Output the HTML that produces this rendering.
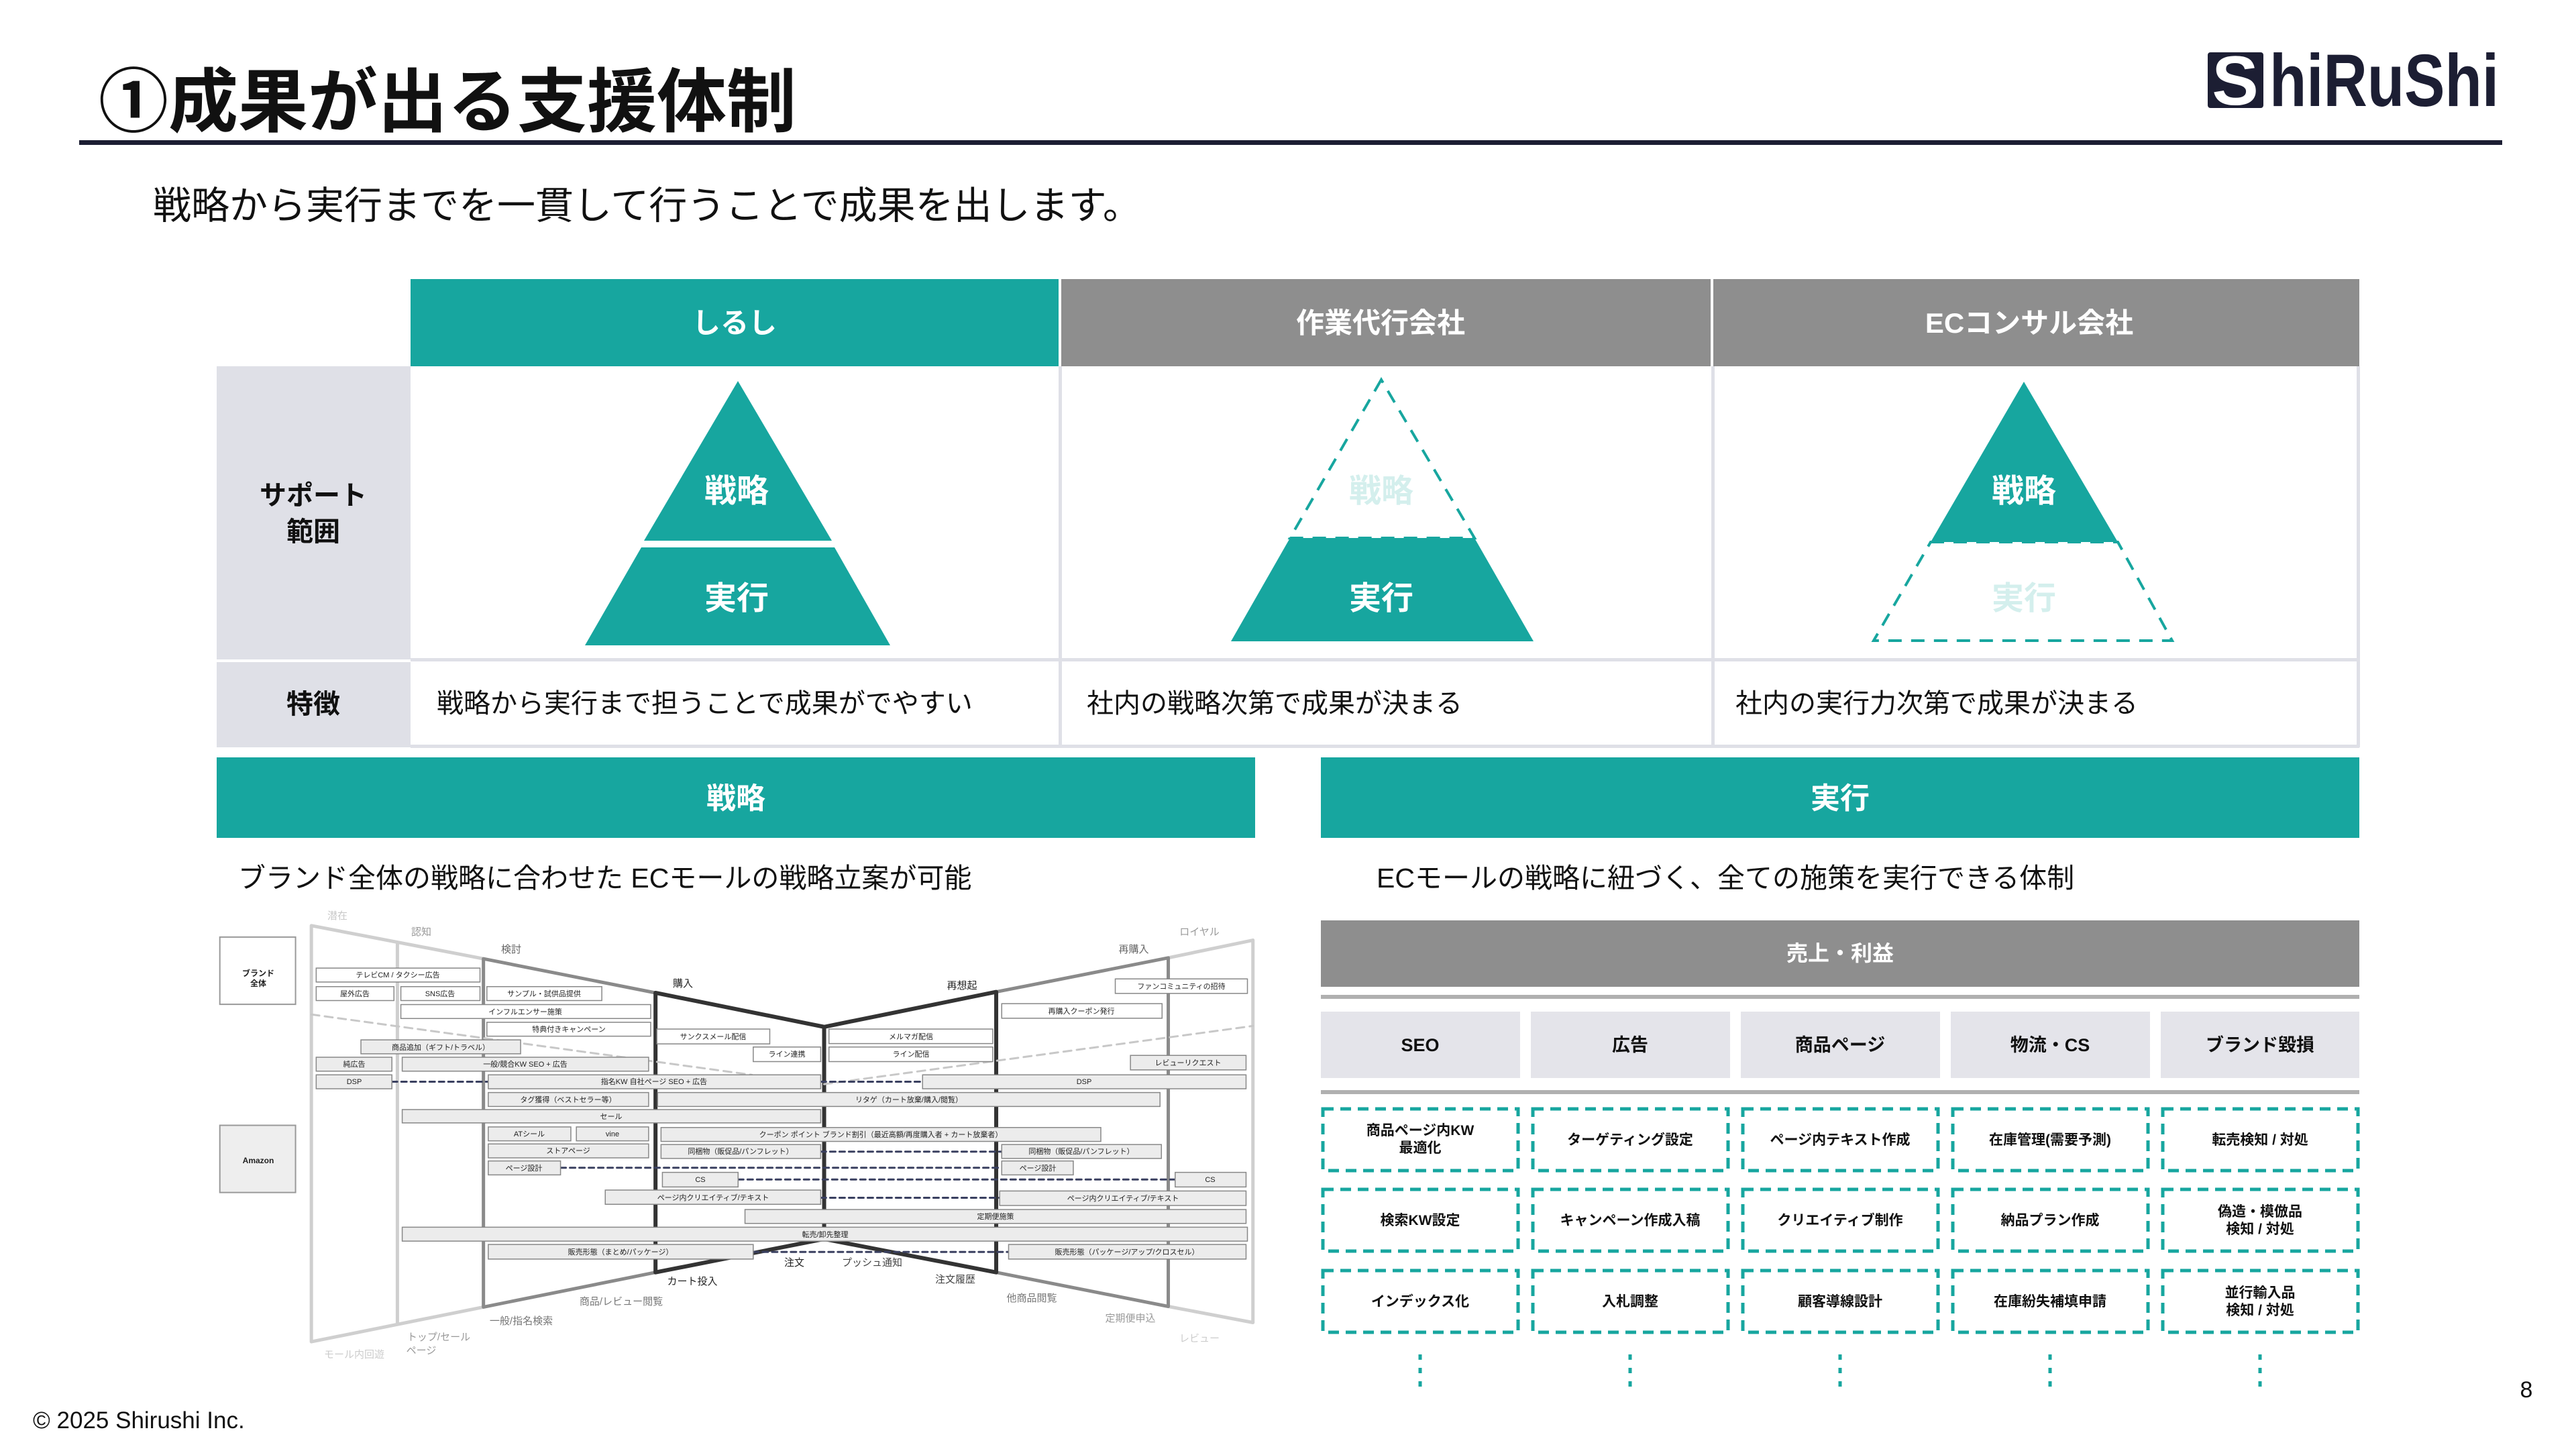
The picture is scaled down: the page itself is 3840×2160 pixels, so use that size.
<!DOCTYPE html>
<html><head><meta charset="utf-8">
<style>
html,body{margin:0;padding:0;background:#fff;}
body{width:3840px;height:2160px;overflow:hidden;position:relative;font-family:"Liberation Sans","Noto Sans CJK JP",sans-serif;}
svg text{font-family:"Liberation Sans","Noto Sans CJK JP",sans-serif;}
</style></head>
<body>
<svg width="3840" height="2160" viewBox="0 0 3840 2160" xmlns="http://www.w3.org/2000/svg" style="position:absolute;left:0;top:0">
<!-- Title -->
<text x="147" y="188" font-size="104" font-weight="bold" fill="#111">①成果が出る支援体制</text>
<rect x="118" y="209" width="3612" height="7" fill="#1c1e33"/>
<!-- Logo -->
<rect x="3291" y="78" width="83" height="83" rx="4" fill="#1c1e33"/>
<text x="3332" y="156" font-size="104" font-weight="bold" fill="#fff" text-anchor="middle">S</text>
<text x="3383" y="158" font-size="110" font-weight="bold" fill="#1c1e33" textLength="342" lengthAdjust="spacingAndGlyphs">hiRuShi</text>
<!-- Subtitle -->
<text x="228" y="326" font-size="57" fill="#111">戦略から実行までを一貫して行うことで成果を出します。</text>

<!-- Table -->
<rect x="612" y="416" width="966" height="130" fill="#17a69f"/>
<rect x="1582" y="416" width="968" height="130" fill="#8e8e8e"/>
<rect x="2554" y="416" width="963" height="130" fill="#8e8e8e"/>
<text x="1095" y="496" font-size="42" font-weight="bold" fill="#fff" text-anchor="middle">しるし</text>
<text x="2058" y="496" font-size="42" font-weight="bold" fill="#fff" text-anchor="middle">作業代行会社</text>
<text x="3025" y="496" font-size="42" font-weight="bold" fill="#fff" text-anchor="middle">ECコンサル会社</text>
<rect x="323" y="546" width="289" height="437" fill="#dfe0e7"/>
<rect x="323" y="987" width="289" height="127" fill="#dfe0e7"/>
<text x="467" y="752" font-size="40" font-weight="bold" fill="#111" text-anchor="middle">サポート</text>
<text x="467" y="806" font-size="40" font-weight="bold" fill="#111" text-anchor="middle">範囲</text>
<text x="467" y="1063" font-size="40" font-weight="bold" fill="#111" text-anchor="middle">特徴</text>
<g fill="#dfe0e7">
<rect x="612" y="981" width="2905" height="5"/>
<rect x="612" y="1110" width="2905" height="5"/>
<rect x="1578" y="546" width="5" height="568"/>
<rect x="2551" y="546" width="5" height="568"/>
<rect x="3513" y="546" width="5" height="568"/>
</g>
<g font-size="40" fill="#111">
<text x="651" y="1062">戦略から実行まで担うことで成果がでやすい</text>
<text x="1620" y="1062">社内の戦略次第で成果が決まる</text>
<text x="2587" y="1062">社内の実行力次第で成果が決まる</text>
</g>
<!-- Pyramid 1 -->
<polygon points="1100,568 960,806 1240,806" fill="#17a69f"/>
<polygon points="956,816 1244,816 1327,962 872,962" fill="#17a69f"/>
<text x="1098" y="748" font-size="48" font-weight="bold" fill="#fff" text-anchor="middle">戦略</text>
<text x="1098" y="908" font-size="48" font-weight="bold" fill="#fff" text-anchor="middle">実行</text>
<!-- Pyramid 2 -->
<polygon points="2059,566 1923,802 2198,802" fill="none" stroke="#17a69f" stroke-width="4" stroke-dasharray="20,14"/>
<polygon points="1923,802 2198,802 2286,956 1835,956" fill="#17a69f"/>
<text x="2059" y="748" font-size="48" font-weight="bold" fill="#d4efed" text-anchor="middle">戦略</text>
<text x="2059" y="908" font-size="48" font-weight="bold" fill="#fff" text-anchor="middle">実行</text>
<!-- Pyramid 3 -->
<polygon points="3017,569 2878,808 3157,808" fill="#17a69f"/>
<polygon points="2878,808 3157,808 3238,955 2793,955" fill="none" stroke="#17a69f" stroke-width="4" stroke-dasharray="20,14"/>
<text x="3017" y="748" font-size="48" font-weight="bold" fill="#fff" text-anchor="middle">戦略</text>
<text x="3017" y="908" font-size="48" font-weight="bold" fill="#d4efed" text-anchor="middle">実行</text>

<!-- Strategy / Execution bars -->
<rect x="323" y="1129" width="1548" height="120" fill="#17a69f"/>
<rect x="1969" y="1129" width="1548" height="120" fill="#17a69f"/>
<text x="1097" y="1205" font-size="44" font-weight="bold" fill="#fff" text-anchor="middle">戦略</text>
<text x="2743" y="1205" font-size="44" font-weight="bold" fill="#fff" text-anchor="middle">実行</text>
<text x="355" y="1323" font-size="41" fill="#111">ブランド全体の戦略に合わせた ECモールの戦略立案が可能</text>
<text x="2052" y="1323" font-size="41" fill="#111">ECモールの戦略に紐づく、全ての施策を実行できる体制</text>

<!-- Right panel -->
<rect x="1969" y="1372" width="1548" height="99" fill="#8e8e8e"/>
<text x="2743" y="1432" font-size="32" font-weight="bold" fill="#fff" text-anchor="middle">売上・利益</text>
<rect x="1969" y="1483" width="1548" height="6" fill="#b0b0b0"/>
<g fill="#e4e4ea">
<rect x="1969" y="1508" width="297" height="99"/>
<rect x="2282" y="1508" width="297" height="99"/>
<rect x="2595" y="1508" width="297" height="99"/>
<rect x="2908" y="1508" width="297" height="99"/>
<rect x="3221" y="1508" width="296" height="99"/>
</g>
<g font-size="27" font-weight="bold" fill="#111" text-anchor="middle">
<text x="2117" y="1567">SEO</text>
<text x="2430" y="1567">広告</text>
<text x="2743" y="1567">商品ページ</text>
<text x="3056" y="1567">物流・CS</text>
<text x="3369" y="1567">ブランド毀損</text>
</g>
<rect x="1969" y="1625" width="1548" height="6" fill="#b0b0b0"/>
<g fill="none" stroke="#17a69f" stroke-width="5" stroke-dasharray="16,10">
<rect x="1972" y="1653" width="291" height="92"/><rect x="2285" y="1653" width="291" height="92"/><rect x="2598" y="1653" width="291" height="92"/><rect x="2911" y="1653" width="291" height="92"/><rect x="3224" y="1653" width="291" height="92"/>
<rect x="1972" y="1773" width="291" height="92"/><rect x="2285" y="1773" width="291" height="92"/><rect x="2598" y="1773" width="291" height="92"/><rect x="2911" y="1773" width="291" height="92"/><rect x="3224" y="1773" width="291" height="92"/>
<rect x="1972" y="1894" width="291" height="92"/><rect x="2285" y="1894" width="291" height="92"/><rect x="2598" y="1894" width="291" height="92"/><rect x="2911" y="1894" width="291" height="92"/><rect x="3224" y="1894" width="291" height="92"/>
<path d="M2117 2019V2067M2430 2019V2067M2743 2019V2067M3056 2019V2067M3369 2019V2067" stroke-dasharray="8,12"/>
</g>
<g font-size="21" font-weight="bold" fill="#111" text-anchor="middle">
<text x="2117" y="1692">商品ページ内KW</text><text x="2117" y="1718">最適化</text>
<text x="2430" y="1706">ターゲティング設定</text>
<text x="2743" y="1706">ページ内テキスト作成</text>
<text x="3056" y="1706">在庫管理(需要予測)</text>
<text x="3369" y="1706">転売検知 / 対処</text>
<text x="2117" y="1826">検索KW設定</text>
<text x="2430" y="1826">キャンペーン作成入稿</text>
<text x="2743" y="1826">クリエイティブ制作</text>
<text x="3056" y="1826">納品プラン作成</text>
<text x="3369" y="1813">偽造・模倣品</text><text x="3369" y="1839">検知 / 対処</text>
<text x="2117" y="1947">インデックス化</text>
<text x="2430" y="1947">入札調整</text>
<text x="2743" y="1947">顧客導線設計</text>
<text x="3056" y="1947">在庫紛失補填申請</text>
<text x="3369" y="1934">並行輸入品</text><text x="3369" y="1960">検知 / 対処</text>
</g>

<!-- Left diagram -->
<g transform="translate(300,1330)">
 <g transform="scale(1.026 0.4615)">
  <g fill="#fff" stroke="#999" stroke-width="2" vector-effect="non-scaling-stroke">
   <rect x="27" y="145" width="110" height="217" vector-effect="non-scaling-stroke"/>
   <rect x="27" y="753" width="110" height="217" fill="#eee" vector-effect="non-scaling-stroke"/>
  </g>
  <g fill="none" stroke-linecap="round">
   <path d="M160 108L410 215M1405 212L1528 155M160 1452L410 1340M1405 1338L1528 1390M160 108V1452M1528 155V1390M285 162V1395" stroke="#cfcfcf" stroke-width="5" vector-effect="non-scaling-stroke"/>
   <path d="M410 215L660 325M1155 322L1405 212M410 1340L660 1228M1155 1228L1405 1338M410 215V1340M1405 212V1338" stroke="#8a8a8a" stroke-width="5" vector-effect="non-scaling-stroke"/>
   <path d="M660 325L905 435L1155 322M660 1228L905 1120L1155 1228M660 325V1228M905 435V1120M1155 322V1228" stroke="#333" stroke-width="6" vector-effect="non-scaling-stroke"/>
   <path d="M160 395L800 590M905 620L1528 432" stroke="#c8c8c8" stroke-width="3" stroke-dasharray="12,8" vector-effect="non-scaling-stroke"/>
   <path d="M277 612H417M900 612H1048M900 838H1163M522 890H1163M780 928H1415M900 987H1160M802 1162H1173" stroke="#3a4060" stroke-width="3" stroke-dasharray="8,6" vector-effect="non-scaling-stroke"/>
  </g>
  <g fill="#ececec" stroke="#888" stroke-width="1.5">
   <rect x="167" y="245" width="238" height="45" fill="#fff" vector-effect="non-scaling-stroke"/>
   <rect x="167" y="305" width="113" height="45" fill="#fff" vector-effect="non-scaling-stroke"/>
   <rect x="290" y="305" width="115" height="45" fill="#fff" vector-effect="non-scaling-stroke"/>
   <rect x="415" y="305" width="167" height="45" fill="#fff" vector-effect="non-scaling-stroke"/>
   <rect x="290" y="363" width="363" height="45" fill="#fff" vector-effect="non-scaling-stroke"/>
   <rect x="415" y="420" width="238" height="45" fill="#fff" vector-effect="non-scaling-stroke"/>
   <rect x="232" y="477" width="232" height="45" vector-effect="non-scaling-stroke"/>
   <rect x="167" y="533" width="110" height="45" vector-effect="non-scaling-stroke"/>
   <rect x="292" y="533" width="358" height="45" vector-effect="non-scaling-stroke"/>
   <rect x="167" y="590" width="110" height="45" vector-effect="non-scaling-stroke"/>
   <rect x="417" y="590" width="483" height="45" vector-effect="non-scaling-stroke"/>
   <rect x="417" y="647" width="233" height="45" vector-effect="non-scaling-stroke"/>
   <rect x="292" y="702" width="608" height="43" vector-effect="non-scaling-stroke"/>
   <rect x="417" y="758" width="120" height="45" vector-effect="non-scaling-stroke"/>
   <rect x="545" y="758" width="105" height="45" vector-effect="non-scaling-stroke"/>
   <rect x="417" y="813" width="233" height="45" vector-effect="non-scaling-stroke"/>
   <rect x="417" y="868" width="105" height="45" vector-effect="non-scaling-stroke"/>
   <rect x="662" y="442" width="164" height="48" fill="#fff" vector-effect="non-scaling-stroke"/>
   <rect x="802" y="500" width="98" height="47" fill="#fff" vector-effect="non-scaling-stroke"/>
   <rect x="912" y="442" width="238" height="47" fill="#fff" vector-effect="non-scaling-stroke"/>
   <rect x="912" y="500" width="238" height="47" fill="#fff" vector-effect="non-scaling-stroke"/>
   <rect x="1328" y="280" width="192" height="47" fill="#fff" vector-effect="non-scaling-stroke"/>
   <rect x="1163" y="360" width="233" height="47" fill="#fff" vector-effect="non-scaling-stroke"/>
   <rect x="1350" y="527" width="168" height="47" vector-effect="non-scaling-stroke"/>
   <rect x="1048" y="590" width="470" height="45" vector-effect="non-scaling-stroke"/>
   <rect x="663" y="647" width="730" height="45" vector-effect="non-scaling-stroke"/>
   <rect x="668" y="760" width="639" height="45" vector-effect="non-scaling-stroke"/>
   <rect x="668" y="815" width="232" height="45" vector-effect="non-scaling-stroke"/>
   <rect x="1163" y="815" width="232" height="45" vector-effect="non-scaling-stroke"/>
   <rect x="1163" y="868" width="104" height="45" vector-effect="non-scaling-stroke"/>
   <rect x="670" y="905" width="110" height="47" vector-effect="non-scaling-stroke"/>
   <rect x="1415" y="905" width="103" height="47" vector-effect="non-scaling-stroke"/>
   <rect x="587" y="962" width="313" height="46" vector-effect="non-scaling-stroke"/>
   <rect x="1160" y="965" width="358" height="47" vector-effect="non-scaling-stroke"/>
   <rect x="790" y="1025" width="728" height="45" vector-effect="non-scaling-stroke"/>
   <rect x="292" y="1082" width="1228" height="45" vector-effect="non-scaling-stroke"/>
   <rect x="417" y="1138" width="385" height="47" vector-effect="non-scaling-stroke"/>
   <rect x="1173" y="1138" width="345" height="47" vector-effect="non-scaling-stroke"/>
  </g>
 </g>
 <g font-size="12" font-weight="bold" fill="#222" text-anchor="middle">
  <text x="85" y="125">ブランド</text><text x="85" y="140">全体</text>
  <text x="85" y="404">Amazon</text>
 </g>
 <g font-size="11" fill="#222" text-anchor="middle">
  <text x="293" y="127">テレビCM / タクシー広告</text>
  <text x="229" y="155">屋外広告</text>
  <text x="356" y="155">SNS広告</text>
  <text x="511" y="155">サンプル・試供品提供</text>
  <text x="483" y="182">インフルエンサー施策</text>
  <text x="548" y="208">特典付きキャンペーン</text>
  <text x="357" y="235">商品追加（ギフト/トラベル）</text>
  <text x="228" y="260">純広告</text>
  <text x="483" y="260">一般/競合KW SEO + 広告</text>
  <text x="228" y="286">DSP</text>
  <text x="675" y="286">指名KW 自社ページ SEO + 広告</text>
  <text x="547" y="313">タグ獲得（ベストセラー等）</text>
  <text x="611" y="338">セール</text>
  <text x="489" y="364">ATシール</text>
  <text x="613" y="364">vine</text>
  <text x="547" y="389">ストアページ</text>
  <text x="481" y="415">ページ設計</text>
  <text x="763" y="219">サンクスメール配信</text>
  <text x="873" y="245">ライン連携</text>
  <text x="1058" y="219">メルマガ配信</text>
  <text x="1058" y="245">ライン配信</text>
  <text x="1461" y="144">ファンコミュニティの招待</text>
  <text x="1312" y="181">再購入クーポン発行</text>
  <text x="1471" y="258">レビューリクエスト</text>
  <text x="1316" y="286">DSP</text>
  <text x="1055" y="313">リタゲ（カート放棄/購入/閲覧）</text>
  <text x="1013" y="365">クーポン ポイント ブランド割引（最近高額/再度購入者 + カート放棄者）</text>
  <text x="804" y="390">同梱物（販促品/パンフレット）</text>
  <text x="1312" y="390">同梱物（販促品/パンフレット）</text>
  <text x="1247" y="415">ページ設計</text>
  <text x="744" y="432">CS</text>
  <text x="1504" y="432">CS</text>
  <text x="763" y="459">ページ内クリエイティブ/テキスト</text>
  <text x="1374" y="460">ページ内クリエイティブ/テキスト</text>
  <text x="1184" y="487">定期便施策</text>
  <text x="930" y="514">転売/卸先整理</text>
  <text x="625" y="540">販売形態（まとめ/パッケージ）</text>
  <text x="1380" y="540">販売形態（パッケージ/アップ/クロスセル）</text>
 </g>
 <g font-size="15" text-anchor="middle">
  <text x="203" y="40" fill="#c8c8c8">潜在</text>
  <text x="328" y="64" fill="#999">認知</text>
  <text x="462" y="90" fill="#666">検討</text>
  <text x="718" y="141" fill="#222">購入</text>
  <text x="1134" y="144" fill="#222">再想起</text>
  <text x="1390" y="90" fill="#666">再購入</text>
  <text x="1488" y="64" fill="#999">ロイヤル</text>
  <text x="884" y="557" fill="#222">注文</text>
  <text x="1000" y="557" fill="#444">プッシュ通知</text>
  <text x="732" y="585" fill="#222">カート投入</text>
  <text x="1124" y="582" fill="#444">注文履歴</text>
  <text x="626" y="615" fill="#777">商品/レビュー閲覧</text>
  <text x="1238" y="610" fill="#777">他商品閲覧</text>
  <text x="477" y="644" fill="#777">一般/指名検索</text>
  <text x="1385" y="640" fill="#999">定期便申込</text>
  <text x="354" y="668" fill="#999">トップ/セール</text>
  <text x="328" y="688" fill="#999">ページ</text>
  <text x="228" y="694" fill="#ccc">モール内回遊</text>
  <text x="1488" y="670" fill="#ccc">レビュー</text>
 </g>
</g>

<!-- Footer -->
<text x="49" y="2129" font-size="35" fill="#111">© 2025 Shirushi Inc.</text>
<text x="3766" y="2083" font-size="34" fill="#111" text-anchor="middle">8</text>
</svg>
</body></html>
